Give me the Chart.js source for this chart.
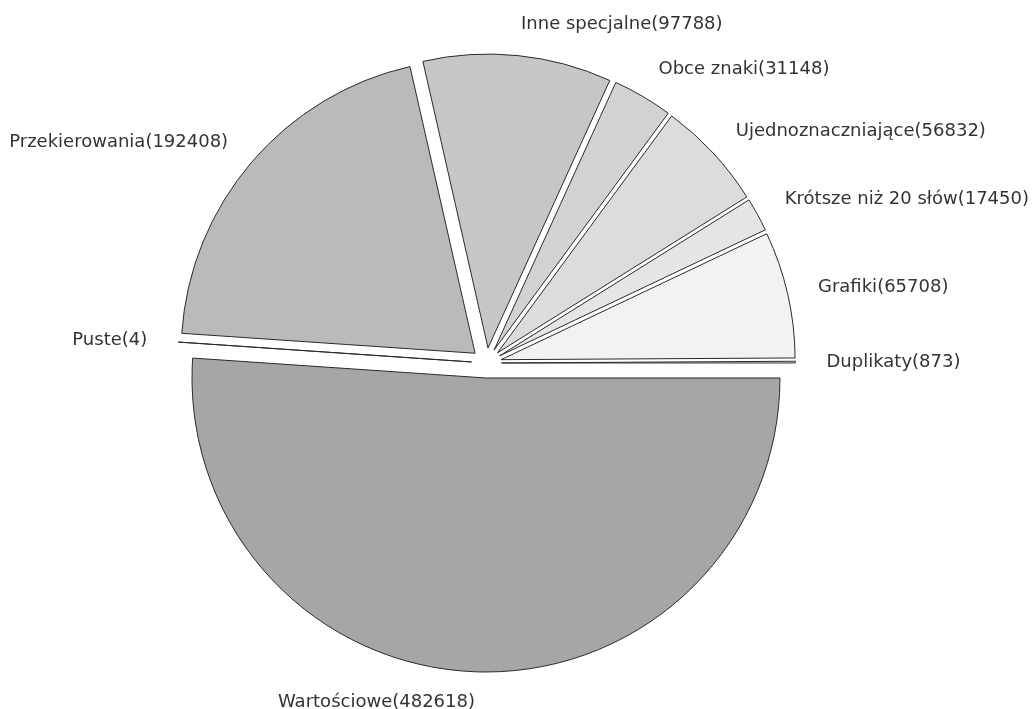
<!DOCTYPE html>
<html>
<head>
<meta charset="utf-8">
<script src="https://cdn.jsdelivr.net/npm/chart.js@4"></script>
<style>
  html, body { margin: 0; padding: 0; background: #fff; }
  #wrap { width: 1035px; height: 709px; position: relative; }
</style>
</head>
<body>
<div id="wrap"><canvas id="pie"></canvas></div>
<script>
// slices in drawing order, clockwise from 3 o'clock
const categories = ['Wartościowe', 'Puste', 'Przekierowania', 'Inne specjalne', 'Obce znaki',
  'Ujednoznaczniające', 'Krótsze niż 20 słów', 'Grafiki', 'Duplikaty'];
const counts = [482618, 4, 192408, 97788, 31148, 56832, 17450, 65708, 873];
const sliceColors = ['#a6a6a6', '#b0b0b0', '#bababa', '#c6c6c6', '#d2d2d2',
  '#dcdcdc', '#e5e5e5', '#f2f2f2', '#fafafa'];

const EXPLODE = 15; // px, every slice pushed out along its middle angle

// Chart.js' own offset also grows the radius of thin slices, so shift arcs by hand
const explodeSlices = {
  id: 'explodeSlices',
  afterUpdate(chart) {
    chart.getDatasetMeta(0).data.forEach(arc => {
      if (arc.__exploded) return;
      const baseDraw = Object.getPrototypeOf(arc).draw;
      arc.draw = function (ctx) {
        const mid = (this.startAngle + this.endAngle) / 2;
        ctx.save();
        ctx.translate(Math.cos(mid) * EXPLODE, Math.sin(mid) * EXPLODE);
        baseDraw.call(this, ctx);
        ctx.restore();
      };
      arc.__exploded = true;
    });
  }
};

// etykiety na zewnątrz koła: "Nazwa(liczba)"
const outerLabels = {
  id: 'outerLabels',
  afterDatasetsDraw(chart) {
    const ctx = chart.ctx;
    const meta = chart.getDatasetMeta(0);
    ctx.save();
    ctx.font = '18px "DejaVu Sans"';
    ctx.fillStyle = '#333';
    ctx.textBaseline = 'middle';
    meta.data.forEach((arc, i) => {
      const p = arc.getProps(['x', 'y', 'startAngle', 'endAngle', 'outerRadius'], true);
      const mid = (p.startAngle + p.endAngle) / 2;
      const r = p.outerRadius + 46;
      const ax = p.x + Math.cos(mid) * r;
      const ay = p.y + Math.sin(mid) * r;
      ctx.textAlign = Math.cos(mid) < 0 ? 'right' : 'left';
      ctx.fillText(categories[i] + '(' + counts[i] + ')', ax, ay);
    });
    ctx.restore();
  }
};

(function () {
  const canvas = document.getElementById('pie');
  new Chart(canvas, {
    type: 'pie',
    data: {
      labels: categories,
      datasets: [{
        data: counts,
        backgroundColor: sliceColors,
        borderColor: '#2a2a2a',
        borderWidth: 1,
        clip: false
      }]
    },
    options: {
      responsive: true,
      maintainAspectRatio: false,
      animation: false,
      rotation: 90,
      radius: 294,
      layout: { padding: { left: 0, right: 62, top: 17, bottom: 0 } },
      plugins: { legend: { display: false }, tooltip: { enabled: false } }
    },
    plugins: [explodeSlices, outerLabels]
  });
})();
</script>
</body>
</html>
